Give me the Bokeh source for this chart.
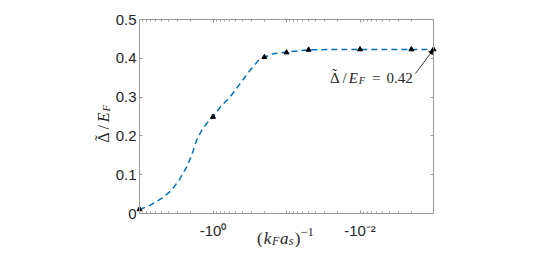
import math
from bokeh.plotting import figure
from bokeh.models import (Range1d, LogAxis, LinearAxis, FixedTicker, Label, Arrow, NormalHead,
                          CustomJSTickFormatter)
from bokeh.embed import file_html
from bokeh.resources import INLINE

# ---- data: x holds |(k_F a_s)^-1| (the axis shows the negative values, reversed log scale) ----
marker_x = [10, 1, 0.2, 0.1, 0.05, 0.01, 0.002, 0.001]
marker_y = [0.011, 0.249, 0.403, 0.415, 0.422, 0.423, 0.423, 0.423]

curve_x = [10, 7.2, 5.0, 3.65, 2.81, 2.28, 1.95, 1.67, 1.43, 1.22, 1.0, 0.80,
           0.587, 0.43, 0.314, 0.242, 0.2, 0.151, 0.1, 0.05, 0.01, 0.001]
curve_y = [0.010, 0.021, 0.039, 0.060, 0.090, 0.120, 0.150, 0.189, 0.214, 0.232, 0.249, 0.274,
           0.300, 0.334, 0.369, 0.394, 0.403, 0.412, 0.416, 0.422, 0.423, 0.423]

x_tick_values = [10, 1, 0.1, 0.01, 0.001]
x_tick_labels = ["", "-10⁰", "", "-10⁻²", ""]
y_tick_values = [0, 0.1, 0.2, 0.3, 0.4, 0.5]
y_tick_labels = ["0", "0.1", "0.2", "0.3", "0.4", "0.5"]
annotation_value = "0.42"

# ---- layout (pixels) ----
W, H = 538, 247
BOX_L, BOX_R, BOX_T, BOX_B = 139, 433, 19, 213

AX = "#9a9a9a"
TXT = "#262626"
SERIF = "Liberation Serif"

# ranges chosen so that the axes box sits at the pixel box while the frame fills the figure
x_hi, x_lo = x_tick_values[0], x_tick_values[-1]
dec = (BOX_R - BOX_L) / (math.log10(x_hi) - math.log10(x_lo))
x_start = 10 ** (math.log10(x_hi) + BOX_L / dec)
x_end = 10 ** (math.log10(x_lo) - (W - BOX_R) / dec)
y_lo, y_hi = y_tick_values[0], y_tick_values[-1]
per = (BOX_B - BOX_T) / (y_hi - y_lo)
y_start = y_lo - (H - BOX_B) / per
y_end = y_hi + BOX_T / per

p = figure(width=W, height=H, x_axis_type="log",
           x_range=Range1d(x_start, x_end), y_range=Range1d(y_start, y_end),
           output_backend="svg", toolbar_location=None, min_border=0)
p.xgrid.visible = False
p.ygrid.visible = False
p.outline_line_color = None
p.background_fill_color = "white"
p.border_fill_color = "white"

minor = [m * 10.0 ** k for k in range(-3, 1) for m in range(2, 10)]
xt = FixedTicker(ticks=x_tick_values, minor_ticks=minor)
yt = FixedTicker(ticks=y_tick_values)

LABEL_JS = """
for (let i = 0; i < vals.length; i++) {
  if (Math.abs(tick - vals[i]) <= 1e-9 * Math.max(1, Math.abs(vals[i]))) return labs[i];
}
return '';
"""
xfmt = CustomJSTickFormatter(args=dict(vals=x_tick_values, labs=x_tick_labels), code=LABEL_JS)
yfmt = CustomJSTickFormatter(args=dict(vals=y_tick_values, labs=y_tick_labels), code=LABEL_JS)

bottom = p.below[0]
left = p.left[0]
bottom.ticker = xt
bottom.formatter = xfmt
bottom.fixed_location = y_lo
bottom.bounds = (x_lo, x_hi)
left.ticker = yt
left.formatter = yfmt
left.fixed_location = x_hi
left.bounds = (y_lo, y_hi)

top = LogAxis(ticker=xt, formatter=CustomJSTickFormatter(code="return '';"),
              fixed_location=y_hi, bounds=(x_lo, x_hi))
right = LinearAxis(ticker=yt, formatter=CustomJSTickFormatter(code="return '';"),
                   fixed_location=x_lo, bounds=(y_lo, y_hi))
p.add_layout(top, "above")
p.add_layout(right, "right")

for ax in [bottom, top, left, right]:
    ax.axis_line_color = AX
    ax.major_tick_line_color = AX
    ax.minor_tick_line_color = AX
    ax.major_tick_in = 3
    ax.major_tick_out = 0
    ax.minor_tick_in = 2
    ax.minor_tick_out = 0
    ax.major_label_text_font = "Liberation Sans"
    ax.major_label_text_font_size = "15px"
    ax.major_label_text_color = TXT

bottom.major_label_standoff = 8
left.major_label_standoff = 3
top.major_label_standoff = 0
right.major_label_standoff = 0

p.line(curve_x, curve_y, line_color="#0072BD", line_width=1.5, line_dash="6 4")
p.scatter(marker_x, marker_y, marker="triangle", size=5, color="black")


def run(pieces, sx0, sy0, angle=0.0):
    """pieces: (text, advance offset, baseline shift (up +), size px, style)"""
    for text, dx, dy, size, style in pieces:
        if angle == 0:
            x, y = sx0 + dx, sy0 + dy
        else:
            x, y = sx0 - dy, sy0 + dx
        p.add_layout(Label(x=x, y=y, x_units="screen", y_units="screen", text=text,
                           angle=angle, text_font=SERIF, text_font_size=f"{size}px",
                           text_font_style=style, text_color=TXT,
                           text_align="left", text_baseline="alphabetic"))


# screen units: pixels from the figure's bottom-left corner
# annotation  ~Delta/E_F = 0.42
run([("Δ", 1.6, 0, 15, "normal"), ("˜", 3.6, 3.5, 15, "normal"),
     ("/", 14.1, 0, 15, "normal"), ("E", 20.2, 0, 15, "italic"),
     ("F", 30.3, -3, 10.5, "italic"), ("=", 43.6, 0, 15, "normal"),
     (annotation_value, 58, 0, 15, "normal")], 328, H - 77)

# x label (k_F a_s)^-1
run([("(", 0.5, 0, 17, "normal"), ("k", 7.3, 0, 17, "italic"), ("F", 15.5, -2.5, 12, "italic"),
     ("a", 23.5, 0, 17, "italic"), ("s", 32.2, -2.5, 12, "italic"), (")", 38.3, 0, 17, "normal"),
     ("−1", 44.4, 6.5, 12, "normal")], 256, H - 238)

# y label ~Delta/E_F (rotated, reading upwards)
run([("Δ", 1.7, 0, 16, "normal"), ("˜", 3.8, 3.5, 16, "normal"),
     ("/", 15.1, 0, 16, "normal"), ("E", 22.3, 0, 16, "italic"),
     ("F", 33.1, -2.5, 11, "italic")], 103, H - 144, angle=math.pi / 2)

p.add_layout(Arrow(end=NormalHead(size=5, fill_color="black", line_color="black", line_width=0.5),
                   x_start=415, y_start=H - 73, start_units="screen",
                   x_end=marker_x[-1], y_end=marker_y[-1], end_units="data",
                   line_color="black", line_width=0.8))

open("out.html", "w").write(file_html(p, INLINE))
